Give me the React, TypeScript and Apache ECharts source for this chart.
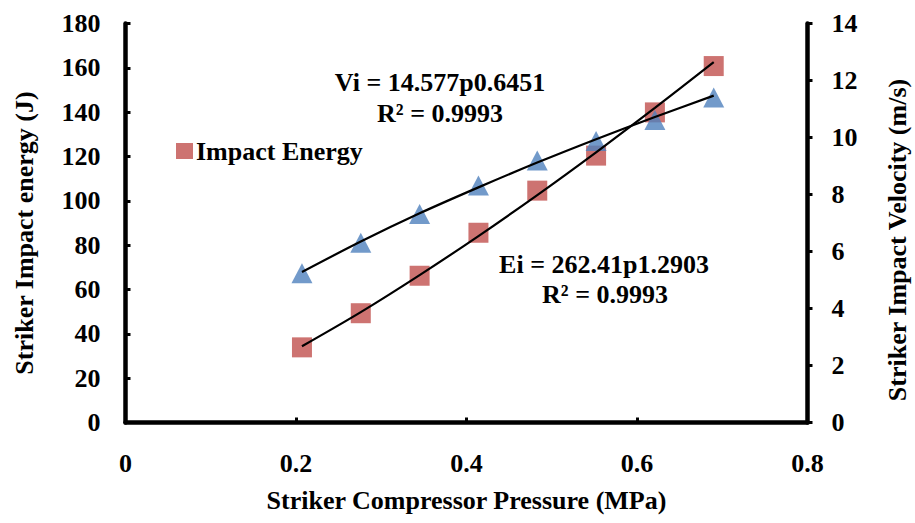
import React, { useEffect, useRef } from "react";
import * as echarts from "echarts";

const pressure = [0.207, 0.276, 0.345, 0.414, 0.483, 0.552, 0.621, 0.69];
const impactEnergy = [33.9, 49.3, 66.2, 85.6, 104.6, 120.4, 139.9, 160.8];
const impactVelocity = [5.24, 6.31, 7.32, 8.32, 9.19, 9.88, 10.61, 11.4];
const energyTrend = [34.4, 49.8, 66.5, 84.1, 102.6, 121.9, 141.9, 162.6];
const velocityTrend = [5.28, 6.35, 7.34, 8.25, 9.12, 9.94, 10.72, 11.47];

const xTitle = "Striker Compressor Pressure (MPa)";
const leftTitle = "Striker Impact energy (J)";
const rightTitle = "Striker Impact Velocity (m/s)";
const energyName = "Impact Energy";
const velocityName = "Impact Velocity";
const velocityEq = ["Vi = 14.577p0.6451", "R² = 0.9993"];
const energyEq = ["Ei = 262.41p1.2903", "R² = 0.9993"];

const FONT = '"Liberation Serif", "Times New Roman", serif';
const FS = 26;

export default function App() {
  const ref = useRef<HTMLDivElement>(null);
  useEffect(() => {
    if (!ref.current) return;
    const chart = echarts.init(ref.current, null, { renderer: "svg" });
    const txt = { fontFamily: FONT, fontWeight: "bold" as const, fontSize: FS, color: "#000" };
    const axisCommon = {
      axisLine: { show: true, lineStyle: { color: "#000", width: 4.5 } },
      splitLine: { show: false },
      axisLabel: { ...txt },
      nameTextStyle: { ...txt },
    };
    const pair = (ys: number[]) => pressure.map((x, i) => [x, ys[i]]);
    chart.setOption({
      animation: false,
      backgroundColor: "#fff",
      grid: { left: 125.5, right: 107.5, top: 23.5, bottom: 100.5, containLabel: false, outerBoundsMode: "none" },
      legend: {
        data: [energyName],
        left: 171,
        top: 133,
        icon: "rect",
        itemWidth: 17,
        itemHeight: 16,
        itemGap: 4,
        textStyle: { ...txt, padding: [0, 0, 0, -2] },
      },
      xAxis: {
        type: "value",
        min: 0,
        max: 0.8,
        interval: 0.2,
        ...axisCommon,
        axisTick: { show: true, inside: true, length: 5, lineStyle: { color: "#000", width: 3 } },
        axisLabel: { ...txt, margin: 28 },
        name: xTitle,
        nameLocation: "middle",
        nameGap: 65,
      },
      yAxis: [
        {
          type: "value",
          min: 0,
          max: 180,
          interval: 20,
          position: "left",
          ...axisCommon,
          axisTick: { show: true, inside: true, length: 5, lineStyle: { color: "#000", width: 3 } },
          axisLabel: { ...txt, margin: 25 },
          name: leftTitle,
          nameLocation: "middle",
          nameRotate: 90,
          nameGap: 88,
          nameTextStyle: { ...txt, padding: [0, 20, 0, 0] },
        },
        {
          type: "value",
          min: 0,
          max: 14,
          interval: 2,
          position: "right",
          ...axisCommon,
          axisTick: { show: true, inside: false, length: 5, lineStyle: { color: "#000", width: 3 } },
          axisLabel: { ...txt, margin: 24 },
          name: rightTitle,
          nameLocation: "middle",
          nameRotate: 90,
          nameGap: 77,
          nameTextStyle: { ...txt, padding: [0, 34, 0, 0] },
        },
      ],
      series: [
        {
          name: energyName,
          type: "scatter",
          yAxisIndex: 0,
          symbol: "rect",
          symbolSize: 20,
          itemStyle: { color: "#C0504D" },
          data: pair(impactEnergy),
          z: 2,
        },
        {
          name: velocityName,
          type: "scatter",
          yAxisIndex: 1,
          symbol: "triangle",
          symbolSize: [21, 20],
          itemStyle: { color: "#4F81BD" },
          data: pair(impactVelocity),
          z: 2,
        },
        {
          name: "Energy trend",
          type: "line",
          yAxisIndex: 0,
          smooth: 0.3,
          showSymbol: false,
          symbol: "none",
          lineStyle: { color: "#000", width: 2.2 },
          data: pair(energyTrend),
          z: 3,
        },
        {
          name: "Velocity trend",
          type: "line",
          yAxisIndex: 1,
          smooth: 0.3,
          showSymbol: false,
          symbol: "none",
          lineStyle: { color: "#000", width: 2.2 },
          data: pair(velocityTrend),
          z: 3,
        },
      ],
      graphic: [
        { type: "text", x: 440, y: 82, style: { text: velocityEq[0], font: `bold ${FS}px ${FONT}`, fill: "#000", textAlign: "center", textVerticalAlign: "middle" } },
        { type: "text", x: 440, y: 113, style: { text: velocityEq[1], font: `bold ${FS}px ${FONT}`, fill: "#000", textAlign: "center", textVerticalAlign: "middle" } },
        { type: "text", x: 604, y: 264, style: { text: energyEq[0], font: `bold ${FS}px ${FONT}`, fill: "#000", textAlign: "center", textVerticalAlign: "middle" } },
        { type: "text", x: 605, y: 294, style: { text: energyEq[1], font: `bold ${FS}px ${FONT}`, fill: "#000", textAlign: "center", textVerticalAlign: "middle" } },
      ],
    });
    return () => chart.dispose();
  }, []);
  return <div ref={ref} style={{ position: "absolute", left: 0, top: 0, width: 915, height: 523 }} />;
}
